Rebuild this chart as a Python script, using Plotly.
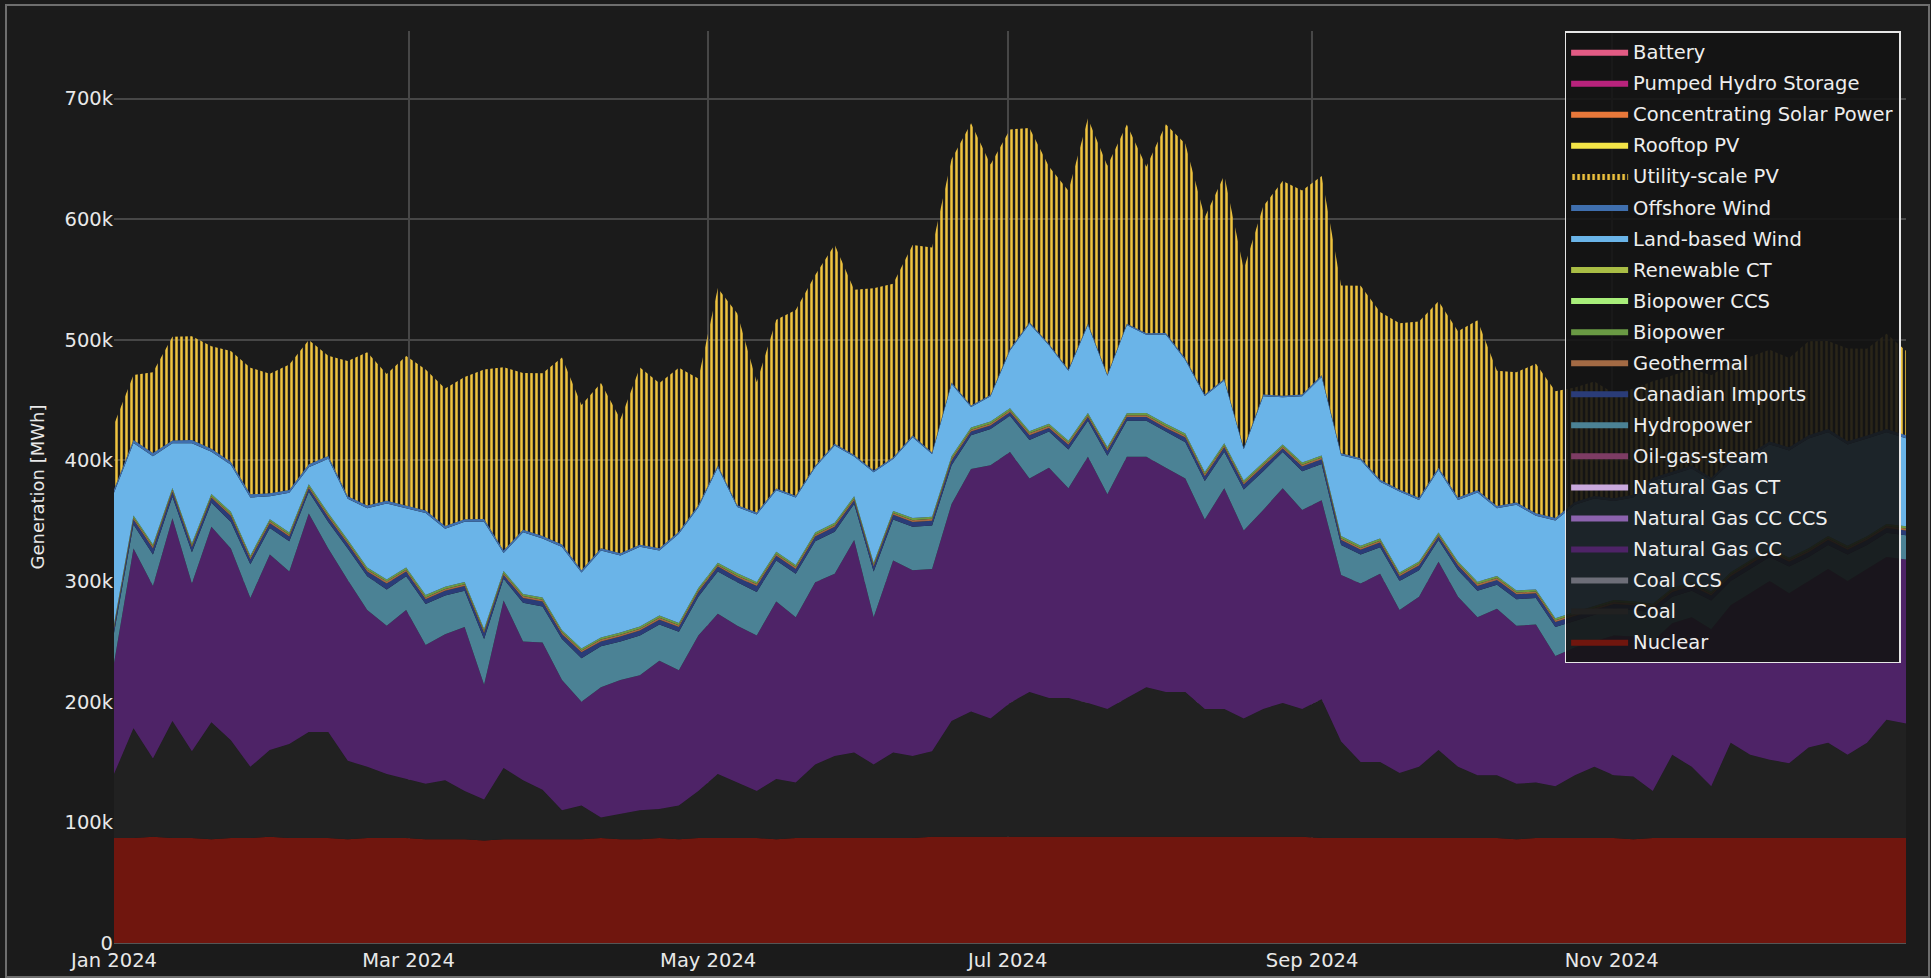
import pandas as pd
import plotly.graph_objects as go

# Sample positions: 93 evenly spaced samples over the hourly year shown (Jan 1 00:00 .. Dec 30 23:00)
dates = pd.date_range("2024-01-01 00:00", "2024-12-30 23:00", periods=93)

# Values in thousand MWh (one value per sample position)
nuclear = [87, 87, 88, 87, 87, 86, 87, 87, 88, 87,
           87, 87, 86, 87, 87, 87, 86, 86, 86, 85,
           86, 86, 86, 86, 86, 87, 86, 86, 87, 86,
           87, 87, 87, 87, 86, 87, 87, 87, 87, 87,
           87, 87, 88, 88, 88, 88, 88, 88, 88, 88,
           88, 88, 88, 88, 88, 88, 88, 88, 88, 88,
           88, 88, 87, 87, 87, 87, 87, 87, 87, 87,
           87, 87, 86, 87, 87, 87, 87, 87, 86, 87,
           87, 87, 87, 87, 87, 87, 87, 87, 87, 87,
           87, 87, 87]
coal = [53, 91, 65, 97, 72, 97, 81, 59, 72, 78,
        88, 88, 65, 59, 53, 49, 46, 49, 40, 34,
        59, 49, 41, 24, 28, 17, 21, 24, 24, 28,
        39, 53, 46, 39, 50, 46, 61, 68, 71, 61,
        71, 68, 71, 96, 104, 98, 111, 120, 115, 115,
        111, 106, 115, 124, 120, 120, 106, 106, 98, 106,
        111, 106, 115, 80, 63, 63, 54, 59, 73, 59,
        52, 52, 46, 46, 43, 52, 59, 52, 52, 39,
        69, 59, 43, 79, 69, 65, 62, 75, 79, 69,
        79, 98, 95]
gas_cc = [92, 149, 143, 168, 139, 162, 159, 140, 162, 143,
          181, 152, 150, 130, 123, 140, 115, 121, 136, 95,
          139, 115, 122, 108, 86, 108, 111, 112, 123, 112,
          129, 133, 130, 129, 147, 137, 151, 151, 176, 122,
          159, 154, 151, 180, 201, 210, 208, 177, 191, 174,
          204, 178, 200, 191, 186, 177, 157, 183, 156, 165,
          178, 165, 165, 138, 148, 156, 135, 141, 156, 141,
          131, 138, 131, 131, 108, 106, 104, 116, 116, 124,
          109, 124, 130, 114, 134, 148, 141, 138, 144, 144,
          144, 135, 136]
hydro = [25, 20, 26, 18, 26, 20, 22, 28, 22, 25,
         18, 22, 26, 28, 30, 28, 34, 32, 30, 38,
         18, 32, 30, 34, 36, 34, 32, 33, 30, 32,
         32, 35, 36, 36, 34, 36, 34, 35, 30, 38,
         34, 36, 36, 32, 28, 30, 30, 32, 30, 32,
         30, 32, 30, 30, 30, 30, 32, 30, 34, 32,
         30, 32, 30, 25, 24, 22, 24, 22, 18, 22,
         22, 20, 22, 22, 24, 22, 22, 22, 22, 24,
         22, 22, 24, 20, 20, 20, 22, 20, 20, 22,
         20, 20, 20]
canadian = [4, 4, 5, 4, 4, 4, 5, 4, 4, 4,
            3, 4, 4, 4, 5, 4, 4, 4, 4, 5,
            3, 4, 4, 4, 5, 4, 4, 4, 4, 4,
            4, 4, 4, 5, 4, 4, 4, 4, 3, 4,
            4, 4, 4, 4, 3, 3, 3, 4, 3, 4,
            3, 4, 3, 3, 3, 4, 4, 4, 4, 4,
            3, 4, 4, 4, 4, 4, 4, 4, 3, 4,
            4, 4, 4, 4, 4, 4, 4, 4, 4, 4,
            4, 4, 4, 4, 4, 4, 4, 4, 4, 4,
            4, 4, 4]
geothermal = [1.5, 1.5, 1.6, 1.5, 1.5, 1.4, 1.5, 1.5, 1.6, 1.5,
              1.5, 1.5, 1.4, 1.5, 1.6, 1.5, 1.5, 1.5, 1.4, 1.5,
              1.5, 1.6, 1.5, 1.5, 1.4, 1.5, 1.5, 1.5, 1.6, 1.5,
              1.5, 1.4, 1.5, 1.5, 1.5, 1.6, 1.5, 1.5, 1.4, 1.5,
              1.5, 1.5, 1.6, 1.5, 1.5, 1.4, 1.5, 1.5, 1.5, 1.6,
              1.5, 1.5, 1.4, 1.5, 1.5, 1.5, 1.6, 1.5, 1.5, 1.4,
              1.5, 1.5, 1.5, 1.6, 1.5, 1.5, 1.4, 1.5, 1.5, 1.5,
              1.6, 1.5, 1.5, 1.4, 1.5, 1.5, 1.5, 1.6, 1.5, 1.5,
              1.4, 1.5, 1.5, 1.5, 1.6, 1.5, 1.5, 1.4, 1.5, 1.5,
              1.5, 1.6, 1.5]
biopower = [1.8, 1.9, 1.8, 1.7, 1.8, 1.8, 1.9, 1.8, 1.7, 1.8,
            1.8, 1.9, 1.8, 1.8, 1.7, 1.8, 1.9, 1.8, 1.8, 1.7,
            1.8, 1.8, 1.9, 1.8, 1.7, 1.8, 1.8, 1.9, 1.8, 1.8,
            1.7, 1.8, 1.9, 1.8, 1.8, 1.7, 1.8, 1.8, 1.9, 1.8,
            1.7, 1.8, 1.8, 1.9, 1.8, 1.8, 1.7, 1.8, 1.9, 1.8,
            1.8, 1.7, 1.8, 1.8, 1.9, 1.8, 1.8, 1.7, 1.8, 1.9,
            1.8, 1.8, 1.7, 1.8, 1.8, 1.9, 1.8, 1.8, 1.7, 1.8,
            1.9, 1.8, 1.8, 1.7, 1.8, 1.8, 1.9, 1.8, 1.8, 1.7,
            1.8, 1.9, 1.8, 1.8, 1.7, 1.8, 1.8, 1.9, 1.8, 1.8,
            1.7, 1.8, 1.9]
land_wind = [109, 60, 73, 37, 83, 35, 39, 48, 19, 33,
             14, 45, 34, 49, 63, 49, 68, 48, 50, 89,
             15, 51, 49, 69, 63, 72, 64, 66, 54, 74,
             67, 79, 55, 56, 51, 56, 54, 64, 33, 75,
             43, 67, 52, 60, 17, 21, 48, 89, 65, 58,
             73, 59, 73, 65, 74, 61, 63, 52, 26, 55,
             39, 55, 65, 67, 71, 47, 67, 51, 52, 51,
             74, 56, 71, 61, 81, 89, 89, 82, 86, 102,
             94, 94, 92, 91, 86, 86, 89, 91, 86, 84,
             81, 76, 73]
offshore_wind = [2.6, 2.5, 2.7, 2.4, 2.6, 2.5, 2.4, 2.6, 2.5, 2.3,
                 2.5, 2.4, 2.2, 2.3, 2.4, 2.2, 2.1, 2.3, 2.0, 2.2,
                 2.0, 2.1, 1.9, 2.0, 1.8, 1.9, 1.8, 1.7, 1.8, 1.6,
                 1.7, 1.6, 1.5, 1.6, 1.4, 1.5, 1.4, 1.5, 1.3, 1.4,
                 1.3, 1.4, 1.2, 1.3, 1.2, 1.1, 1.2, 1.3, 1.2, 1.1,
                 1.2, 1.1, 1.2, 1.1, 1.2, 1.3, 1.2, 1.3, 1.2, 1.4,
                 1.3, 1.4, 1.5, 1.6, 1.5, 1.7, 1.6, 1.8, 1.7, 1.9,
                 1.8, 2.0, 1.9, 2.1, 2.0, 2.2, 2.1, 2.3, 2.2, 2.4,
                 2.3, 2.5, 2.4, 2.5, 2.6, 2.4, 2.6, 2.5, 2.7, 2.6,
                 2.5, 2.7, 2.6]
# Utility-scale PV: midday peak of each sample window (drawn with a striped fill for the day/night cycle)
utility_pv = [54, 54, 67, 86, 86, 85, 92, 105, 99, 104,
              103, 83, 112, 127, 105, 124, 117, 114, 118, 124,
              152, 130, 135, 155, 137, 137, 111, 147, 137, 136,
              105, 147, 159, 108, 140, 154, 158, 165, 137, 151,
              144, 158, 170, 185, 234, 191, 182, 161, 147, 148,
              170, 173, 165, 138, 173, 178, 147, 169, 148, 156,
              178, 169, 165, 139, 143, 139, 138, 146, 138, 138,
              141, 112, 108, 124, 105, 95, 95, 87, 88, 80,
              80, 80, 85, 80, 80, 76, 74, 78, 73, 77,
              72, 79, 70]

series = [
    ("Nuclear", nuclear, "#70160e"),
    ("Coal", coal, "#212121"),
    ("Coal CCS", None, "#6d6e78"),
    ("Natural Gas CC", gas_cc, "#4e2367"),
    ("Natural Gas CC CCS", None, "#8c63ae"),
    ("Natural Gas CT", None, "#c9a9dd"),
    ("Oil-gas-steam", None, "#7d3c64"),
    ("Hydropower", hydro, "#4b8295"),
    ("Canadian Imports", canadian, "#2a3c78"),
    ("Geothermal", geothermal, "#a36a44"),
    ("Biopower", biopower, "#6a9a44"),
    ("Biopower CCS", None, "#a8ee7a"),
    ("Renewable CT", None, "#a9bd45"),
    ("Land-based Wind", land_wind, "#6ab4e8"),
    ("Offshore Wind", offshore_wind, "#3f6fae"),
    ("Utility-scale PV", utility_pv, "#f0c43e"),
    ("Rooftop PV", None, "#f3e447"),
    ("Concentrating Solar Power", None, "#e8783a"),
    ("Pumped Hydro Storage", None, "#b8237c"),
    ("Battery", None, "#e25b84"),
]

fig = go.Figure()
for idx, (name, vals, color) in enumerate(series):
    if vals is None:
        x = [dates[0], dates[-1]]
        y = [0, 0]
    else:
        assert len(vals) == len(dates), name
        x = dates
        y = [v * 1000 for v in vals]
    kw = {}
    if name == "Utility-scale PV":
        kw["fillpattern"] = dict(shape="|", size=5, solidity=0.5, fillmode="replace",
                                 fgcolor=color, fgopacity=1, bgcolor="rgba(0,0,0,0)")
    fig.add_trace(go.Scatter(
        x=x, y=y, name=name, mode="lines", stackgroup="gen",
        line=dict(width=0, color=color), fillcolor=color,
        legendgroup=name, legendrank=100 - idx, **kw))

font_family = "DejaVu Sans"
fig.update_layout(
    width=1931, height=978,
    paper_bgcolor="#1b1b1b", plot_bgcolor="#1b1b1b",
    margin=dict(l=114, r=25, t=31, b=35),
    font=dict(family=font_family, size=19, color="#e8e8e8"),
    showlegend=True,
    legend=dict(
        x=0.997, xanchor="right", y=1, yanchor="top",
        bgcolor="rgba(20,20,20,0.9)", bordercolor="#e6e6e6", borderwidth=1.5,
        font=dict(family=font_family, size=19.5, color="#eeeeee"),
        traceorder="grouped", tracegroupgap=2.7, itemwidth=57,
    ),
    xaxis=dict(
        type="date", range=[dates[0], dates[-1]],
        dtick="M2", tick0="2024-01-01", tickformat="%b %Y",
        showgrid=True, gridcolor="#474747", gridwidth=1.5,
        zeroline=False, showline=False, automargin=False,
        ticks="", ticklabelstandoff=3,
        tickfont=dict(size=19.5, color="#e8e8e8"),
    ),
    yaxis=dict(
        range=[0, 756000], dtick=100000, tickformat="~s",
        showgrid=True, gridcolor="#474747", gridwidth=1.5,
        zeroline=True, zerolinecolor="#555555", zerolinewidth=1.5,
        showline=False, ticks="", automargin=False,
        tickfont=dict(size=19.5, color="#e8e8e8"),
        title=dict(text="Generation [MWh]", font=dict(size=18, color="#e8e8e8")),
    ),
    shapes=[dict(
        type="rect", xref="paper", yref="paper",
        x0=(6 - 114) / 1792, x1=(1929 - 114) / 1792,
        y0=(943 - 977) / 912, y1=(943 - 5) / 912,
        line=dict(color="#6e6e6e", width=2), fillcolor="rgba(0,0,0,0)", layer="above",
    )],
)

fig.write_html(
    "out.html",
    config={"displayModeBar": False},
    post_script="document.body.style.margin='0';document.body.style.overflow='hidden';",
)
